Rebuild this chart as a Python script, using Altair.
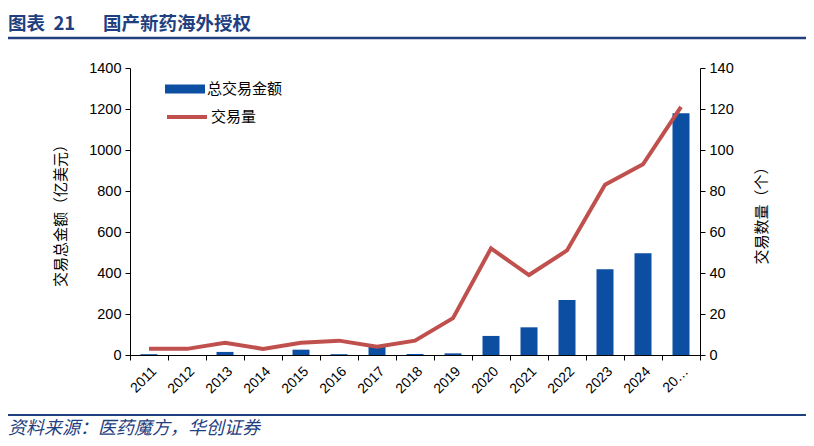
import altair as alt
import pandas as pd

years = [str(y) for y in range(2011, 2026)]
amount = [4, 0, 15, 0, 26, 4, 47, 5, 8, 93, 135, 268, 418, 496, 1179]
count = [3, 3, 6, 3, 6, 7, 4, 7, 18, 52, 39, 51, 83, 93, 121]

title_num = "图表\u00a0\u00a021"
title_text = "国产新药海外授权"
source_text = "资料来源：医药魔方，华创证券"
bar_name = "总交易金额"
line_name = "交易量"
left_title = "交易总金额（亿美元）"
right_title = "交易数量（个）"

df = pd.DataFrame({"year": years, "amount": amount, "count": count,
                   "s1": bar_name, "s2": line_name})

BLUE = "#0b4ea2"
RED = "#c0504d"
NAVY = "#1f3f7f"
CJK = "Noto Sans CJK SC"
LAT = "Liberation Sans"

xenc = alt.X("year:N", sort=years, scale=alt.Scale(paddingInner=0, paddingOuter=0),
             axis=alt.Axis(title=None, labelAngle=-45, tickBand="extent", domainColor="black",
                           tickColor="black", labelColor="black", labelFontSize=14, labelFont=LAT,
                           tickSize=5, labelPadding=4, domainWidth=1,
                           labelExpr="datum.value == '2025' ? '20…' : datum.value"))

base = alt.Chart(df)

bars = base.mark_bar(size=17).encode(
    x=xenc,
    y=alt.Y("amount:Q", scale=alt.Scale(domain=[0, 1400], nice=False),
            axis=alt.Axis(title=left_title, values=list(range(0, 1401, 200)), format="d",
                          grid=False, domainColor="black", tickColor="black",
                          labelColor="black", labelFontSize=14.5, labelFont=LAT, titleFont=CJK,
                          titleFontSize=15, titleFontWeight="normal", titleColor="black",
                          titlePadding=20, tickSize=5, labelPadding=4)),
    fill=alt.Fill("s1:N", scale=alt.Scale(range=[BLUE]),
                  legend=alt.Legend(title=None, orient="none", legendX=35, legendY=1,
                                    symbolType="M-1,-0.225H1V0.225H-1Z", symbolSize=1600,
                                    symbolStrokeWidth=0, labelFont=CJK, labelFontSize=15,
                                    labelColor="black", labelOffset=2, padding=0)),
)

line = base.mark_line(strokeWidth=4).encode(
    x=alt.X("year:N", sort=years),
    y=alt.Y("count:Q", scale=alt.Scale(domain=[0, 140], nice=False),
            axis=alt.Axis(title=right_title, orient="right", values=list(range(0, 141, 20)),
                          format="d", grid=False, domainColor="black", tickColor="black",
                          labelColor="black", labelFontSize=14.5, labelFont=LAT, titleFont=CJK,
                          titleFontSize=15, titleFontWeight="normal", titleColor="black",
                          titleAngle=270, titleBaseline="top", titlePadding=21, tickSize=5,
                          labelPadding=4)),
    stroke=alt.Stroke("s2:N", scale=alt.Scale(range=[RED]),
                      legend=alt.Legend(title=None, orient="none", legendX=35, legendY=27,
                                        symbolType="M-1,0H1", symbolSize=1600,
                                        symbolStrokeWidth=4, labelFont=CJK, labelFontSize=15,
                                        labelColor="black", labelOffset=2, padding=0)),
)

one = pd.DataFrame({"a": [0]})
title1 = alt.Chart(pd.DataFrame({"t": [title_num]})).mark_text(
    align="left", baseline="alphabetic", font=CJK, fontSize=18.5, fontWeight="bold", color=NAVY
).encode(x=alt.value(-122), y=alt.value(-38.5), text="t:N")
title2 = alt.Chart(pd.DataFrame({"t": [title_text]})).mark_text(
    align="left", baseline="alphabetic", font=CJK, fontSize=18.5, fontWeight="bold", color=NAVY
).encode(x=alt.value(-27), y=alt.value(-38.5), text="t:N")
footer = alt.Chart(pd.DataFrame({"t": [source_text]})).mark_text(
    align="left", baseline="alphabetic", font=CJK, fontSize=18, fontStyle="italic", color=NAVY
).encode(x=alt.value(-122), y=alt.value(366), text="t:N")
rule_top = alt.Chart(one).mark_rule(color=NAVY, strokeWidth=2.5).encode(
    x=alt.value(-122), x2=alt.value(676), y=alt.value(-30))
rule_bot = alt.Chart(one).mark_rule(color=NAVY, strokeWidth=2).encode(
    x=alt.value(-122), x2=alt.value(676), y=alt.value(347))

chart = alt.layer(bars, line, title1, title2, footer, rule_top, rule_bot).resolve_scale(
    y="independent"
).properties(
    width=570, height=287, autosize=alt.AutoSizeParams(type="none"),
    padding={"left": 122, "top": 60, "right": 106, "bottom": 83}
).configure_view(stroke=None)

chart.save("out.html", embed_options={"renderer": "svg", "actions": False})
